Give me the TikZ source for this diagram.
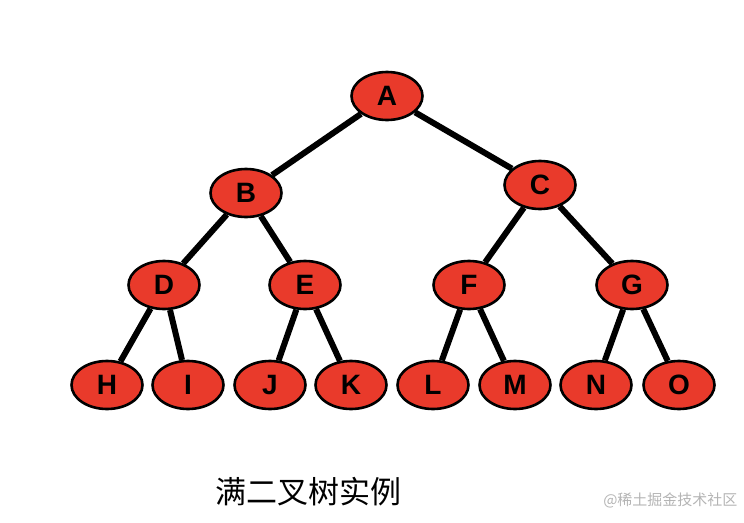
\documentclass[tikz,border=0pt]{standalone}
\usepackage{fontspec}
\setmainfont{Liberation Sans}
\newfontfamily\cjk{Noto Sans CJK SC}
\usepackage{tikz}
\usetikzlibrary{shapes.geometric}
\usepackage{xcolor}
\definecolor{nodered}{HTML}{E93A2B}
\definecolor{mark}{HTML}{B4B4B4}
\tikzset{treenode/.style={ellipse,draw=black,fill=nodered,line width=2.6pt,minimum width=71pt,minimum height=48pt,inner sep=0pt,font=\fontsize{28}{28}\selectfont\bfseries},treeedge/.style={line width=6pt,black},caption/.style={font=\cjk\fontsize{31}{31}\selectfont,anchor=west},watermark/.style={font=\cjk\fontsize{15}{15}\selectfont,text=mark,anchor=east}}

\begin{document}
\begin{tikzpicture}[x=1pt,y=-1pt]
\useasboundingbox (0,0) rectangle (744,522);
\foreach \n/\x/\y in {A/387/96,B/246/193,C/540/185,D/164/285,E/305/285,F/469/285,G/632/285,H/107/385,I/188/385,J/270/385,K/351/385,L/433/385,M/515/385,N/596/385,O/679/385}{
 \node[treenode] (\n) at (\x,\y) {\n};
}
\foreach \a/\b in {A/B,A/C,B/D,B/E,C/F,C/G,D/H,D/I,E/J,E/K,F/L,F/M,G/N,G/O}{
 \draw[treeedge] (\a) -- (\b);
}
\node[caption] (title) at (212,492) {满二叉树实例};
\node[watermark] (credit) at (741,500) {@稀土掘金技术社区};
\end{tikzpicture}
\end{document}
